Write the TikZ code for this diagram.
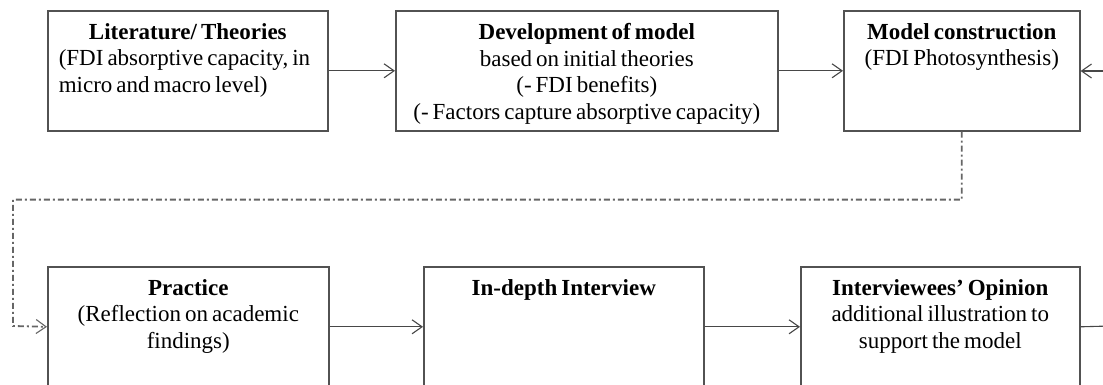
\documentclass[tikz,border=0pt]{standalone}
\usepackage{fontspec}
\setmainfont{Liberation Serif}[WordSpace=0.7]
\usetikzlibrary{arrows.meta,calc}
\begin{document}
\begin{tikzpicture}[x=1pt,y=-1pt,
  box/.style={draw=black!68, line width=1.6pt, anchor=north west,
    minimum height=120pt, inner sep=0pt},
  label/.style={font=\fontsize{23}{26.7}\selectfont, align=center,
    anchor=north, inner sep=0pt},
  flow/.style={draw=black!72, line width=1.1pt,
    -{Straight Barb[length=10pt,width=14pt,line width=1.1pt]}},
  loop/.style={draw=black!60, line width=1.8pt,
    dash pattern=on 6pt off 3pt on 2pt off 3pt,
    -{Straight Barb[length=10pt,width=14pt,line width=1.1pt,
      sep=0pt]}}]
\useasboundingbox (0,0) rectangle (1103,385);
\clip (0,0) rectangle (1103,385);

% top row
\node[box, minimum width=280pt] (lit) at (47,10) {};
\node[box, minimum width=382pt] (dev) at (395,10) {};
\node[box, minimum width=236pt] (con) at (843,10) {};
% bottom row (runs past the lower edge)
\node[box, minimum width=281pt] (pra) at (47,266) {};
\node[box, minimum width=280pt] (int) at (423,266) {};
\node[box, minimum width=279pt] (opi) at (800,266) {};

% box texts
\node[label, align=flush left, text width=258pt] (litT) at ($(lit.north)+(0,13)$)
  {{\centering\bfseries Literature/ Theories\par}
   \mbox{(FDI absorptive capacity, in}\\\mbox{micro and macro level)}};
\node[label] (devT) at ($(dev.north)+(0,13)$)
  {\textbf{Development of model}\\based on initial theories\\(- FDI benefits)\\(- Factors capture absorptive capacity)};
\node[label] (conT) at ($(con.north)+(0,13)$)
  {\textbf{Model construction}\\(FDI Photosynthesis)};
\node[label] (praT) at ($(pra.north)+(0,13)$)
  {\textbf{Practice}\\(Reflection on academic\\findings)};
\node[label] (intT) at ($(int.north)+(0,13)$)
  {\textbf{In-depth Interview}};
\node[label] (opiT) at ($(opi.north)+(0,13)$)
  {\textbf{Interviewees’ Opinion}\\additional illustration to\\support the model};

% outer ends
\coordinate (inR) at (1110,71);
\coordinate (outR) at (1110,326);

% connectors
\draw[flow] (lit) -- (dev);
\draw[flow] (dev) -- (con);
\draw[flow] (inR) -- (con.east |- inR);
\draw[flow] (pra) -- (int);
\draw[flow] (int) -- (opi);
\draw[draw=black!72, line width=1.1pt] (opi.east) -- (outR);
\draw[loop] (con.south) -- ++(0,68) -| (13,326) -- (pra.west);
\end{tikzpicture}
\end{document}
